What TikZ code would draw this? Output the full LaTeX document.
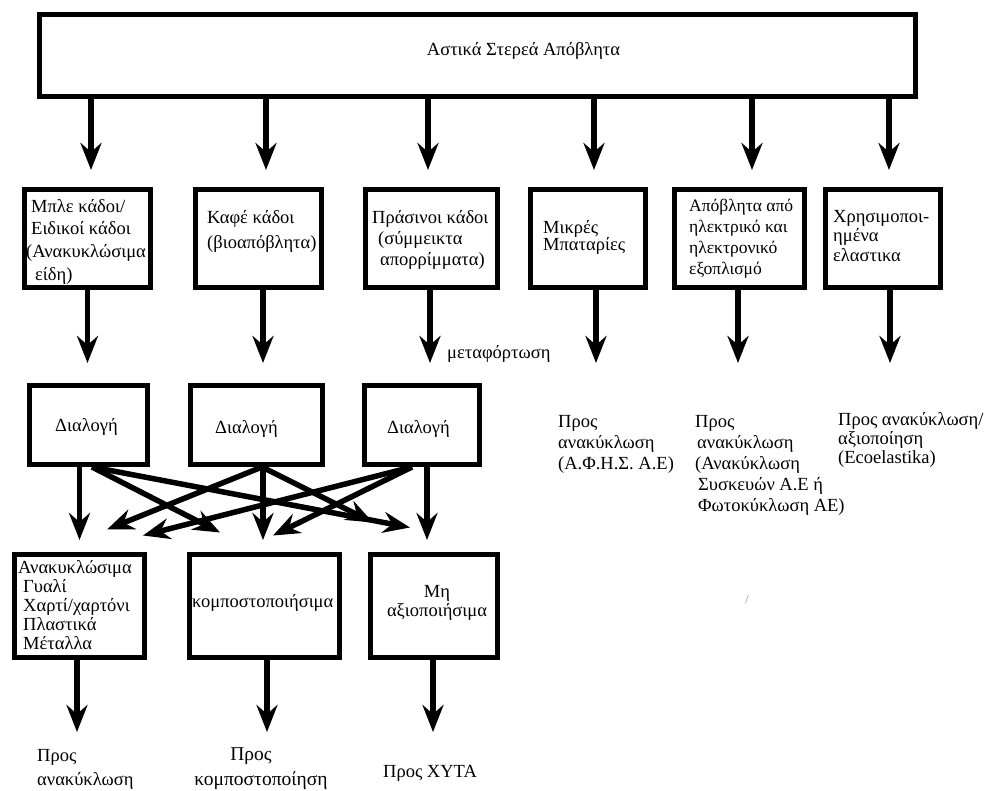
\documentclass[tikz,border=0pt]{standalone}
\usepackage{fontspec}
\setmainfont{Liberation Serif}
\usetikzlibrary{arrows.meta,calc}
\tikzset{
  box/.style={draw, line width=5pt, inner sep=0pt},
  arr/.style={line width=5.5pt, -{Stealth[length=27pt,width=21pt,inset=9pt]}},
  txt/.style={inner sep=0pt, anchor=north west, align=left},
}
\newcommand{\fs}[1]{\fontsize{18.5}{#1}\selectfont}
\begin{document}
\begin{tikzpicture}[x=1pt, y=-1pt, font=\fs{21}]
\useasboundingbox (0,0) rectangle (986,791);
% boxes
\node[box, minimum width=876pt, minimum height=82pt] (top) at (477.5,55.5) {};
\node[box, minimum width=126pt, minimum height=98pt] (b1) at (87.5,238.5) {};
\node[box, minimum width=126pt, minimum height=98pt] (b2) at (258.5,238.5) {};
\node[box, minimum width=132pt, minimum height=98pt] (b3) at (431.5,238.5) {};
\node[box, minimum width=115pt, minimum height=98pt] (b4) at (588,238.5) {};
\node[box, minimum width=130pt, minimum height=98pt] (b5) at (739.5,238.5) {};
\node[box, minimum width=115pt, minimum height=98pt] (b6) at (883,238.5) {};
\node[box, minimum width=118pt, minimum height=79pt] (d1) at (88.5,425) {};
\node[box, minimum width=132pt, minimum height=79pt] (d2) at (256.5,425) {};
\node[box, minimum width=115pt, minimum height=79pt] (d3) at (422,425) {};
\node[box, minimum width=130pt, minimum height=103pt] (r1) at (79.5,606) {};
\node[box, minimum width=150pt, minimum height=103pt] (r2) at (264.5,606) {};
\node[box, minimum width=127pt, minimum height=103pt] (r3) at (434,606) {};
% texts
\node[txt, anchor=base] (ttop) at (523.5,56) {Αστικά Στερεά Απόβλητα};
\node[txt, font=\fs{22.7}] (b1t) at (26,199) {\hspace*{5pt}Μπλε κάδοι/\\\hspace*{5pt}Ειδικοί κάδοι\\(Ανακυκλώσιμα\\\hspace*{9pt}είδη)};
\node[txt, font=\fs{25}] (b2t) at (207,210) {Καφέ κάδοι\\(βιοαπόβλητα)};
\node[txt] (b3t) at (372,210) {Πράσινοι κάδοι\\\hspace*{6pt}(σύμμεικτα\\\hspace*{8pt}απορρίμματα)};
\node[txt, font=\fs{17}] (b4t) at (543,220) {Μικρές\\Μπαταρίες};
\node[txt, font=\fontsize{17.5}{21}\selectfont] (b5t) at (689,199) {Απόβλητα από\\ηλεκτρικό και\\ηλεκτρονικό\\εξοπλισμό};
\node[txt, font=\fs{19.5}] (b6t) at (833,210) {Χρησιμοποι-\\ημένα\\ελαστικα};
\node[txt] (d1t) at (55,418) {Διαλογή};
\node[txt] (d2t) at (215,420) {Διαλογή};
\node[txt] (d3t) at (387,420) {Διαλογή};
\node[txt] (mt) at (447,345) {μεταφόρτωση};
\node[txt] (o4) at (558,415) {Προς\\ανακύκλωση\\(Α.Φ.Η.Σ. Α.Ε)};
\node[txt] (o5) at (695,415) {Προς\\\hspace*{2pt}ανακύκλωση\\(Ανακύκλωση\\\hspace*{3pt}Συσκευών Α.Ε ή\\\hspace*{3pt}Φωτοκύκλωση ΑΕ)};
\node[txt, font=\fs{19}] (o6) at (838,412) {Προς ανακύκλωση/\\αξιοποίηση\\(Ecoelastika)};
\node[txt, font=\fs{19}] (r1t) at (18,560) {Ανακυκλώσιμα\\\hspace*{5pt}Γυαλί\\\hspace*{5pt}Χαρτί/χαρτόνι\\\hspace*{5pt}Πλαστικά\\\hspace*{5pt}Μέταλλα};
\node[txt] (r2t) at (192,594) {κομποστοποιήσιμα};
\node[txt, anchor=north, align=center, font=\fs{19}] (r3t) at (437,585) {Μη\\αξιοποιήσιμα};
\node[txt, font=\fs{24}] (q1) at (37,749) {Προς\\ανακύκλωση};
\node[txt, anchor=north, align=center, font=\fontsize{19.5}{25}\selectfont] (q2) at (261,748) {Προς\hspace*{20pt}\\κομποστοποίηση};
\node[txt] (q3) at (383,765) {Προς ΧΥΤΑ};
\node[inner sep=0pt, text=gray, font=\fontsize{12}{12}\selectfont] (sl) at (747,600) {/};
% arrow tips
\coordinate (tipA) at (0,170);
\coordinate (tipB) at (0,363);
\coordinate (tipC) at (0,540);
\coordinate (tipD) at (0,732);
\foreach \b/\s in {b1/3.5,b2/7.5,b3/-3.5,b4/6,b5/12.5,b6/6}
  \draw[arr] ($(\b.north |- top.south)+(\s,0)$) -- ($(\b.north |- tipA)+(\s,0)$);
\foreach \b/\s in {b1/0,b2/4.5,b3/-1.5,b4/8,b5/-1.5,b6/7}
  \draw[arr] ($(\b.south)+(\s,0)$) -- ($(\b.south |- tipB)+(\s,0)$);
\foreach \d/\r/\s in {d1/r1/0,d2/r2/-1.5,d3/r3/-7}
  \draw[arr] ($(\r.north |- \d.south)+(\s,0)$) -- ($(\r.north |- tipC)+(\s,0)$);
\foreach \d/\r/\a/\bx/\by in {d1/r2/3.5/-44.5/19.5, d1/r3/3.5/-24/24.5, d2/r1/5.5/27.5/22.5,
    d2/r3/5.5/-61/29.5, d3/r1/-10/63.5/16.5, d3/r2/-10/8.5/16.5}
  \draw[arr] ([xshift=\a pt]\d.south) -- ([xshift=\bx pt,yshift=\by pt]\r.north);
\foreach \r/\s in {r1/-2.5,r2/2.5,r3/-1}
  \draw[arr] ($(\r.south)+(\s,0)$) -- ($(\r.south |- tipD)+(\s,0)$);
\end{tikzpicture}
\end{document}
